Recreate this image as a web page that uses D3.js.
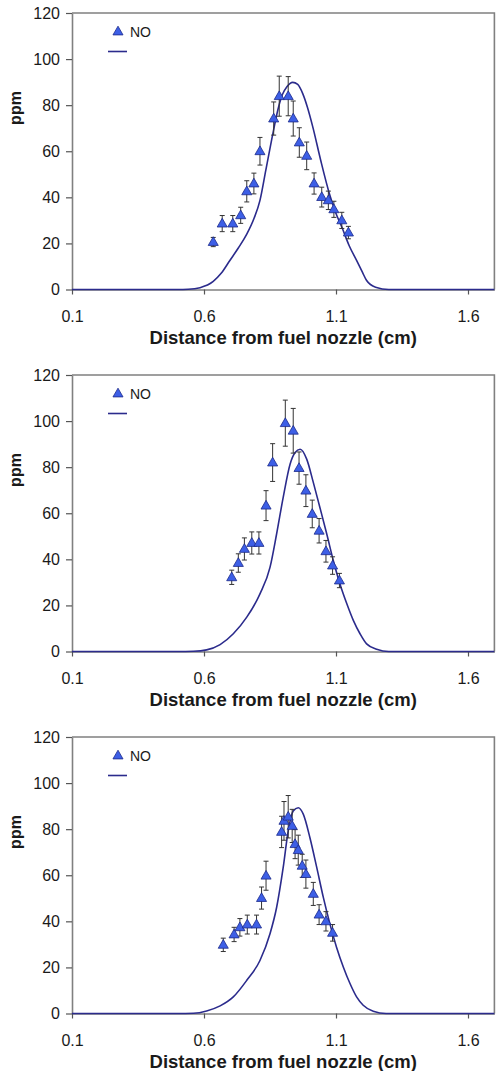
<!DOCTYPE html>
<html>
<head>
<meta charset="utf-8">
<script src="https://cdn.jsdelivr.net/npm/d3@7"></script>
<style>
  body { margin: 0; background: #fff; }
  text { font-family: "Liberation Sans", Arial, sans-serif; fill: #1a1a1a; }
</style>
</head>
<body>
<svg width="496" height="1071"></svg>
<script>
// measured NO (triangles) with error bars, three panels
const no1X = [0.635, 0.669, 0.709, 0.739, 0.762, 0.789, 0.812, 0.864, 0.885, 0.919, 0.938, 0.961, 0.989, 1.017, 1.046, 1.071, 1.092, 1.122, 1.147]
const no1Y = [20.6, 28.6, 28.6, 32.2, 42.6, 46, 60, 74.2, 83.9, 83.9, 74.2, 63.8, 58, 46, 40.1, 38.7, 34.8, 30, 24.7]
const no1Err = [2, 3.5, 3.5, 3.5, 4.6, 4.5, 6, 7.2, 8.7, 8.5, 7.6, 6.4, 6, 4.6, 4.3, 4, 3.5, 3.5, 2.7]

const no2X = [0.705, 0.730, 0.753, 0.781, 0.808, 0.835, 0.860, 0.908, 0.938, 0.960, 0.986, 1.010, 1.036, 1.062, 1.087, 1.113]
const no2Y = [32.2, 38.4, 44.5, 47.1, 47.1, 63.3, 82, 99.1, 95.8, 79.6, 69.8, 59.7, 52.4, 43.5, 37.3, 30.8]
const no2Err = [3.1, 4, 4.8, 4.8, 4.8, 6.5, 8.2, 10, 9.7, 7, 6.9, 6, 5.3, 4.7, 3.8, 3.1]

const no3X = [0.673, 0.714, 0.736, 0.764, 0.799, 0.818, 0.835, 0.894, 0.903, 0.919, 0.934, 0.945, 0.957, 0.972, 0.986, 1.014, 1.036, 1.062, 1.087]
const no3Y = [29.8, 34.3, 37.4, 38.6, 38.6, 50.1, 59.8, 78.8, 83.6, 85.4, 81.4, 73.5, 70.9, 64.1, 60.5, 51.9, 42.9, 40, 35]
const no3Err = [2.9, 3.1, 3.8, 4.1, 4.1, 4.8, 6.3, 6.8, 8.4, 9.2, 7.2, 6.3, 6.5, 5, 6.1, 5, 4.3, 4.2, 3.6]

// model profiles (solid line)
const model1X = [0.1, 0.5, 0.54, 0.585, 0.635, 0.665, 0.698, 0.73, 0.762, 0.79, 0.812, 0.834, 0.858, 0.882, 0.897, 0.914, 0.936, 0.955, 0.974, 0.992, 1.012, 1.042, 1.075, 1.10, 1.122, 1.15, 1.178, 1.2, 1.216, 1.25, 1.3, 1.7]
const model1Y = [0, 0, 0.1, 0.8, 3.5, 7, 12.6, 18, 24, 31, 38.7, 51.7, 66, 79, 84.6, 88, 89.9, 89, 85, 79, 70.6, 56.1, 41.6, 33, 27.1, 19, 12.6, 7.5, 3.9, 1, 0, 0]

const model2X = [0.1, 0.5, 0.56, 0.61, 0.661, 0.711, 0.762, 0.812, 0.85, 0.875, 0.9, 0.926, 0.945, 0.964, 0.989, 1.014, 1.039, 1.065, 1.09, 1.115, 1.141, 1.166, 1.191, 1.216, 1.254, 1.3, 1.7]
const model2Y = [0, 0, 0.1, 0.7, 3, 7.7, 14.9, 25, 36.5, 51, 66.9, 81.3, 86.4, 87.8, 83.5, 73.4, 62.5, 51, 39.4, 29.3, 20.7, 13.4, 7.7, 3.3, 1, 0, 0]

const model3X = [0.1, 0.5, 0.56, 0.61, 0.661, 0.711, 0.762, 0.812, 0.85, 0.875, 0.9, 0.919, 0.938, 0.957, 0.976, 1.001, 1.027, 1.052, 1.077, 1.102, 1.128, 1.153, 1.178, 1.203, 1.241, 1.29, 1.7]
const model3Y = [0, 0, 0.1, 1.1, 3.3, 7.2, 14.4, 23, 34.6, 46, 63.4, 79.3, 87.9, 89.3, 86.5, 76.4, 63.4, 50.4, 38.9, 28.8, 20.1, 13, 7.2, 3.6, 1, 0, 0]

const xTicks = [0.1, 0.6, 1.1, 1.6]
const yTicks = [0, 20, 40, 60, 80, 100, 120]
const seriesName = "NO"
const xTitle = "Distance from fuel nozzle (cm)"
const yTitle = "ppm"

const panels = [
  { x: no1X, y: no1Y, err: no1Err, mx: model1X, my: model1Y },
  { x: no2X, y: no2Y, err: no2Err, mx: model2X, my: model2Y },
  { x: no3X, y: no3Y, err: no3Err, mx: model3X, my: model3Y }
]

const svg = d3.select("svg")

const plotLeft = 72, plotRight = 494.4, plotTop = 13, plotBottom = 289.5
const gap = 362

const scaleX = d3.scaleLinear().domain([0.1, 1.7]).range([plotLeft, plotRight])
const scaleY = d3.scaleLinear().domain([0, 120]).range([plotBottom, plotTop])

const triangle = d3.symbol().type(d3.symbolTriangle).size(44)
const line = d3.line()
  .x(d => scaleX(d[0]))
  .y(d => scaleY(d[1]))
  .curve(d3.curveMonotoneX)

panels.forEach((p, k) => {
  const g = svg.append("g").attr("transform", `translate(0, ${k * gap})`)

  // frame top + right
  g.append("path")
    .attr("d", `M${plotLeft},${plotTop}H${plotRight}V${plotBottom}`)
    .attr("fill", "none")
    .attr("stroke", "#808080")
    .attr("stroke-width", 1.6)

  const axisY = d3.axisLeft(scaleY)
    .tickValues(yTicks)
    .tickSizeInner(6)
    .tickSizeOuter(0)
    .tickPadding(6)

  const axisX = d3.axisBottom(scaleX)
    .tickValues(xTicks)
    .tickFormat(d3.format(".1f"))
    .tickSizeInner(5)
    .tickSizeOuter(0)
    .tickPadding(16)

  const gy = g.append("g")
    .attr("transform", `translate(${plotLeft}, 0)`)
    .call(axisY)
  const gx = g.append("g")
    .attr("transform", `translate(0, ${plotBottom})`)
    .call(axisX)

  ;[gx, gy].forEach(a => {
    a.select(".domain").attr("stroke", "#808080").attr("stroke-width", 1.6)
    a.selectAll(".tick line").attr("stroke", "#555").attr("stroke-width", 1.2)
    a.selectAll(".tick text")
      .attr("font-size", 16)
      .attr("font-family", "Liberation Sans, Arial, sans-serif")
      .attr("fill", "#1a1a1a")
  })

  // model curve
  g.append("path")
    .datum(p.mx.map((v, i) => [v, p.my[i]]))
    .attr("d", line)
    .attr("fill", "none")
    .attr("stroke", "#2b2b8c")
    .attr("stroke-width", 1.6)

  const pts = p.x.map((v, i) => ({ x: v, y: p.y[i], e: p.err[i] }))

  // error bars
  const bars = g.append("g")
    .attr("stroke", "#333")
    .attr("stroke-width", 1)
  bars.selectAll("line.v")
    .data(pts)
    .enter()
    .append("line")
    .attr("class", "v")
    .attr("x1", d => scaleX(d.x))
    .attr("x2", d => scaleX(d.x))
    .attr("y1", d => scaleY(d.y + d.e))
    .attr("y2", d => scaleY(d.y - d.e))
  ;["top", "bot"].forEach(side => {
    bars.selectAll("line." + side)
      .data(pts)
      .enter()
      .append("line")
      .attr("class", side)
      .attr("x1", d => scaleX(d.x) - 2.5)
      .attr("x2", d => scaleX(d.x) + 2.5)
      .attr("y1", d => scaleY(side === "top" ? d.y + d.e : d.y - d.e))
      .attr("y2", d => scaleY(side === "top" ? d.y + d.e : d.y - d.e))
  })

  // triangles
  g.selectAll("path.pt")
    .data(pts)
    .enter()
    .append("path")
    .attr("class", "pt")
    .attr("d", triangle)
    .attr("transform", d => `translate(${scaleX(d.x)}, ${scaleY(d.y) + 0.5})`)
    .attr("fill", "#3d5fe6")
    .attr("stroke", "#1c2a8a")
    .attr("stroke-width", 0.8)

  // legend
  g.append("path")
    .attr("d", triangle)
    .attr("transform", "translate(118, 32)")
    .attr("fill", "#3d5fe6")
    .attr("stroke", "#1c2a8a")
    .attr("stroke-width", 0.8)
  g.append("text")
    .attr("x", 130)
    .attr("y", 37)
    .attr("font-size", 14)
    .text(seriesName)
  g.append("line")
    .attr("x1", 108).attr("x2", 127)
    .attr("y1", 51.5).attr("y2", 51.5)
    .attr("stroke", "#2b2b8c")
    .attr("stroke-width", 1.6)

  // axis titles
  g.append("text")
    .attr("x", (plotLeft + plotRight) / 2)
    .attr("y", plotBottom + 54)
    .attr("text-anchor", "middle")
    .attr("font-size", 18.5)
    .attr("font-weight", "bold")
    .text(xTitle)
  g.append("text")
    .attr("transform", "translate(21, 108) rotate(-90)")
    .attr("text-anchor", "middle")
    .attr("font-size", 16)
    .attr("font-weight", "bold")
    .text(yTitle)
})
</script>
</body>
</html>
